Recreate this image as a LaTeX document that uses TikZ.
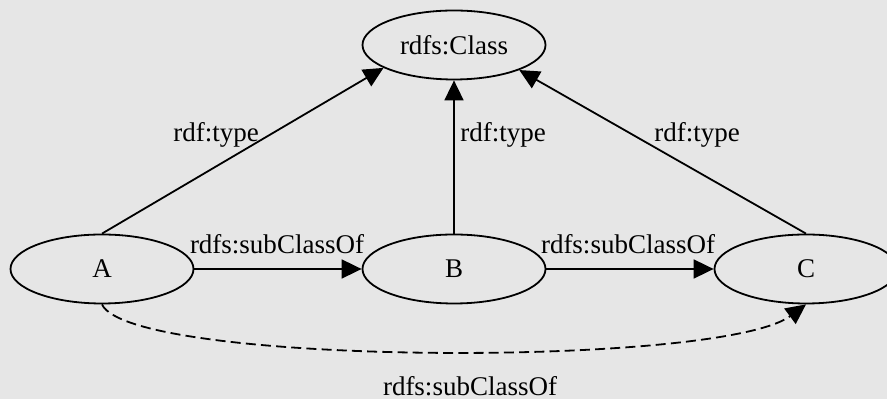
\documentclass[tikz,border=0pt]{standalone}
\usepackage{fontspec}
\setmainfont{Liberation Serif}
\usetikzlibrary{arrows.meta,shapes.geometric}
\definecolor{bggray}{RGB}{230,230,230}
\tikzset{
  ell/.style={draw=black, line width=0.9pt, ellipse, inner sep=0pt,
    minimum width=91.5pt, minimum height=34.5pt,
    font=\fontsize{13.5}{16}\selectfont},
  lbl/.style={anchor=base, inner sep=0pt, font=\fontsize{13.5}{16}\selectfont},
  edge/.style={draw=black, line width=0.9pt, -{Triangle[length=10pt,width=9.5pt]}},
  dashedge/.style={edge, dash pattern=on 5pt off 2.6pt},
}
\begin{document}
\begin{tikzpicture}[x=0.5pt, y=-0.5pt]
  \fill[bggray] (0,0) rectangle (887,399);
  \useasboundingbox (0,0) rectangle (887,399);
  \begin{scope}
  \clip (0,0) rectangle (887,399);
  \node[ell] (Class) at (454,45) {rdfs:Class};
  \node[ell] (A) at (102,269) {A};
  \node[ell] (B) at (454,269) {B};
  \node[ell] (C) at (806,269) {C};

  \draw[edge] (A.north) -- (Class.198);
  \draw[edge] (B.north) -- (Class.south);
  \draw[edge] (C.north) -- (Class.339);
  \draw[edge] (A.east) -- (B.west);
  \draw[edge] (B.east) -- (C.west);
  \draw[dashedge] (A.south) .. controls (130,366) and (720,368) .. (C.south);

  \node[lbl] (l1) at (216,142) {rdf:type};
  \node[lbl] (l2) at (503,142) {rdf:type};
  \node[lbl] (l3) at (697,142) {rdf:type};
  \node[lbl] (l4) at (277,254) {rdfs:subClassOf};
  \node[lbl] (l5) at (628,254) {rdfs:subClassOf};
  \node[lbl] (l6) at (470,396) {rdfs:subClassOf};
  \end{scope}
\end{tikzpicture}
\end{document}
